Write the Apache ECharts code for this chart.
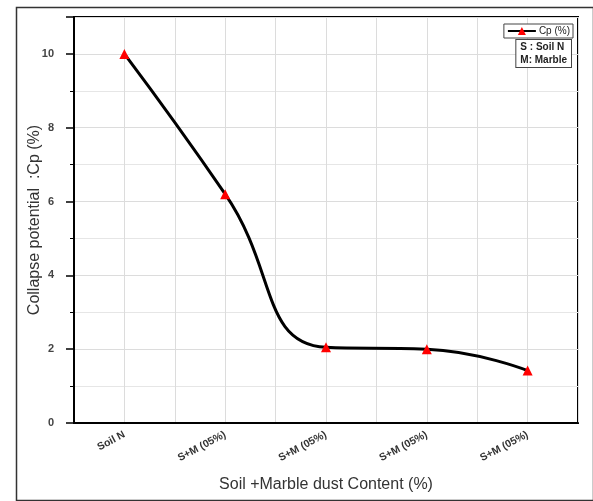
<!DOCTYPE html>
<html>
<head>
<meta charset="utf-8">
<script src="https://cdn.jsdelivr.net/npm/echarts@6/dist/echarts.min.js"></script>
<style>
  html, body { margin: 0; padding: 0; background: #fff; }
  #chart { width: 593px; height: 501px; }
</style>
</head>
<body>
<div id="chart"></div>
<script>
// Mix labels along the x axis
const categories = ['Soil N', 'S+M (05%)', 'S+M (05%)', 'S+M (05%)', 'S+M (05%)'];
// Collapse potential Cp (%) for each mix
const cpValues = [10.0, 6.2, 2.05, 2.0, 1.42];
// Labelled ticks of the value axis
const yTicks = [0, 2, 4, 6, 8, 10];

const chart = echarts.init(document.getElementById('chart'), null, { renderer: 'canvas' });

const font = 'Liberation Sans, Arial, sans-serif';

chart.setOption({
  animation: false,
  backgroundColor: '#fff',
  grid: {
    left: 74, right: 15, top: 17, bottom: 78,
    show: true, borderColor: '#000', borderWidth: 2, backgroundColor: 'transparent'
  },
  xAxis: [
    {
      type: 'category',
      data: categories,
      boundaryGap: true,
      axisLine: { lineStyle: { color: '#000', width: 2 } },
      axisTick: { alignWithLabel: true, length: 7, lineStyle: { color: '#000', width: 1.5 } },
      splitLine: { show: false },
      axisLabel: {
        rotate: 28, fontFamily: font, fontSize: 10.5, color: '#333', fontWeight: 'bold',
        margin: 11, interval: 0
      },
      name: 'Soil +Marble dust Content (%)',
      nameLocation: 'middle',
      nameGap: 54,
      nameMoveOverlap: false,
      nameTextStyle: { fontFamily: font, fontSize: 16, color: '#333' }
    },
    {
      type: 'value',
      min: 0, max: 5, interval: 0.5,
      position: 'bottom',
      axisLine: { show: false },
      axisTick: { show: false },
      axisLabel: { show: false },
      splitLine: { show: true, lineStyle: { color: '#dcdcdc', width: 1 } }
    }
  ],
  yAxis: {
    type: 'value',
    min: 0, max: 11, interval: 2,
    axisLine: { show: true, lineStyle: { color: '#000', width: 2 } },
    axisTick: { show: true, length: 8, lineStyle: { color: '#000', width: 1.5 } },
    minorTick: { show: true, splitNumber: 2, length: 4, lineStyle: { color: '#000' } },
    splitLine: { show: true, lineStyle: { color: '#dcdcdc', width: 1 } },
    minorSplitLine: { show: true, lineStyle: { color: '#e6e6e6', width: 1 } },
    axisLabel: {
      fontFamily: font, fontSize: 11, color: '#444', fontWeight: 'bold', margin: 20,
      formatter: v => (yTicks.indexOf(v) >= 0 ? String(v) : '')
    },
    name: 'Collapse potential  :Cp (%)',
    nameLocation: 'middle',
    nameGap: 31,
    nameMoveOverlap: false,
    nameTextStyle: { fontFamily: font, fontSize: 16, color: '#333' }
  },
  legend: {
    show: true,
    right: 20, top: 24,
    itemWidth: 28, itemHeight: 10, itemGap: 0,
    padding: [2, 3, 2, 3],
    borderColor: '#444', borderWidth: 1,
    backgroundColor: '#fff',
    textStyle: { fontFamily: font, fontSize: 10, color: '#222', padding: [0, 0, 0, -2] },
    data: [{ name: 'Cp (%)' }]
  },
  graphic: [
    {
      type: 'rect',
      left: 14, top: 5,
      shape: { width: 577, height: 493 },
      style: { fill: 'none', stroke: '#333', lineWidth: 1.5 },
      silent: true, z: -10
    },
    {
      type: 'text',
      right: 21, top: 39,
      style: {
        text: 'S : Soil N\nM: Marble',
        font: 'bold 10px ' + font,
        fill: '#222',
        lineHeight: 13,
        backgroundColor: '#fff',
        borderColor: '#444', borderWidth: 1,
        padding: [1, 4, 0, 4]
      },
      z: 100
    }
  ],
  series: [
    {
      name: 'Cp (%)',
      type: 'line',
      xAxisIndex: 0,
      data: cpValues,
      smooth: 0.5,
      showSymbol: true,
      symbol: 'triangle',
      symbolSize: 10,
      lineStyle: { color: '#000', width: 3 },
      itemStyle: { color: '#f00', borderWidth: 0 },
      z: 5
    }
  ]
});
</script>
</body>
</html>
